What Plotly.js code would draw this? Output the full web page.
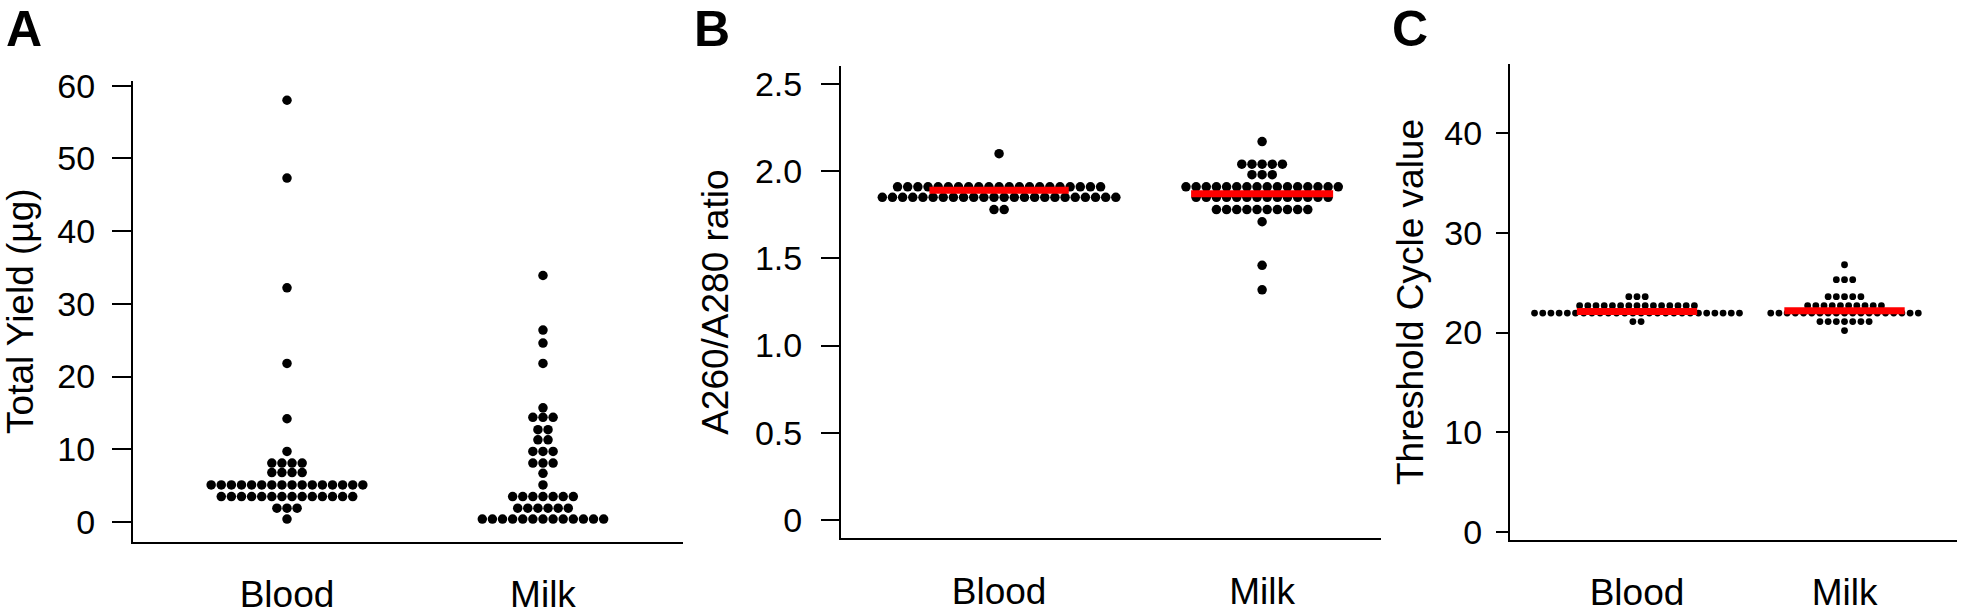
<!DOCTYPE html>
<html>
<head>
<meta charset="utf-8">
<script src="https://cdn.plot.ly/plotly-3.0.1.min.js"></script>
<style>
html,body{margin:0;padding:0;background:#fff;}
#chart{width:1961px;height:614px;}
</style>
</head>
<body>
<div id="chart"></div>
<script>
// ---------- data ----------
const categories = ['Blood', 'Milk'];
const panelLetters = ['A', 'B', 'C'];
const yTitles = ['Total Yield (µg)', 'A260/A280 ratio', 'Threshold Cycle value'];

// Panel A: total yield (µg)
const yieldBlood = [58.0, 47.3, 32.2, 21.8, 14.2, 9.7,
  8.1, 8.1, 8.1, 8.1,
  6.8, 6.8, 6.8, 6.8,
  5.1, 5.1, 5.1, 5.1, 5.1, 5.1, 5.1, 5.1, 5.1, 5.1, 5.1, 5.1, 5.1, 5.1, 5.1, 5.1,
  3.5, 3.5, 3.5, 3.5, 3.5, 3.5, 3.5, 3.5, 3.5, 3.5, 3.5, 3.5, 3.5, 3.5,
  1.9, 1.9, 1.9,
  0.4];
const yieldMilk = [33.9, 26.4, 24.6, 21.8, 15.7,
  14.4, 14.4, 14.4,
  12.7, 12.7,
  11.3, 11.3,
  9.7, 9.7, 9.7,
  8.1, 8.1, 8.1,
  6.7, 5.1,
  3.5, 3.5, 3.5, 3.5, 3.5, 3.5, 3.5,
  1.9, 1.9, 1.9, 1.9, 1.9, 1.9,
  0.4, 0.4, 0.4, 0.4, 0.4, 0.4, 0.4, 0.4, 0.4, 0.4, 0.4, 0.4, 0.4];

// Panel B: A260/A280 ratio
const ratioBlood = [2.10,
  1.91, 1.91, 1.91, 1.91, 1.91, 1.91, 1.91, 1.91, 1.91, 1.91, 1.91, 1.91, 1.91, 1.91, 1.91, 1.91, 1.91, 1.91, 1.91, 1.91, 1.91,
  1.85, 1.85, 1.85, 1.85, 1.85, 1.85, 1.85, 1.85, 1.85, 1.85, 1.85, 1.85, 1.85, 1.85, 1.85, 1.85, 1.85, 1.85, 1.85, 1.85, 1.85, 1.85, 1.85, 1.85,
  1.78, 1.78];
const ratioMilk = [2.17,
  2.04, 2.04, 2.04, 2.04, 2.04,
  1.98, 1.98, 1.98,
  1.91, 1.91, 1.91, 1.91, 1.91, 1.91, 1.91, 1.91, 1.91, 1.91, 1.91, 1.91, 1.91, 1.91, 1.91, 1.91,
  1.85, 1.85, 1.85, 1.85, 1.85, 1.85, 1.85, 1.85, 1.85, 1.85, 1.85, 1.85, 1.85, 1.85,
  1.78, 1.78, 1.78, 1.78, 1.78, 1.78, 1.78, 1.78, 1.78, 1.78,
  1.71, 1.46, 1.32];
const ratioCentre = [1.89, 1.87];

// Panel C: threshold cycle value
const ctBlood = [23.6, 23.6, 23.6,
  22.7, 22.7, 22.7, 22.7, 22.7, 22.7, 22.7, 22.7, 22.7, 22.7, 22.7, 22.7, 22.7, 22.7, 22.7,
  21.95, 21.95, 21.95, 21.95, 21.95, 21.95, 21.95, 21.95, 21.95, 21.95, 21.95, 21.95, 21.95,
  21.95, 21.95, 21.95, 21.95, 21.95, 21.95, 21.95, 21.95, 21.95, 21.95, 21.95, 21.95, 21.95,
  21.1, 21.1];
const ctMilk = [26.8,
  25.3, 25.3, 25.3,
  23.6, 23.6, 23.6, 23.6, 23.6,
  22.7, 22.7, 22.7, 22.7, 22.7, 22.7, 22.7, 22.7, 22.7, 22.7,
  21.95, 21.95, 21.95, 21.95, 21.95, 21.95, 21.95, 21.95, 21.95, 21.95,
  21.95, 21.95, 21.95, 21.95, 21.95, 21.95, 21.95, 21.95, 21.95,
  21.1, 21.1, 21.1, 21.1, 21.1, 21.1, 21.1,
  20.2];
const ctCentre = [22.1, 22.2];

// tick labels
const yTicksA = [0, 10, 20, 30, 40, 50, 60];
const yTicksB = [0, 0.5, 1.0, 1.5, 2.0, 2.5];
const yTickTextB = ['0', '0.5', '1.0', '1.5', '2.0', '2.5'];
const yTicksC = [0, 10, 20, 30, 40];

// ---------- layout helpers ----------
const W = 1961, H = 614;
const FONT = 'Liberation Sans, Arial, Helvetica, sans-serif';

// dot-plot stacking: equal values spread side by side around the category
function swarm(values, catIndex, dx) {
  const counts = {};
  values.forEach(v => { counts[v] = (counts[v] || 0) + 1; });
  const seen = {};
  return values.map(v => {
    const n = counts[v];
    const i = seen[v] || 0;
    seen[v] = i + 1;
    return catIndex + (i - (n - 1) / 2) * dx;
  });
}

function dots(values, catIndex, dx, size, ax) {
  return {
    type: 'scatter', mode: 'markers',
    x: swarm(values, catIndex, dx), y: values,
    xaxis: 'x' + ax, yaxis: 'y' + ax,
    marker: {color: '#000', size: size, line: {width: 0}},
    hoverinfo: 'y', cliponaxis: false
  };
}

function centreLine(value, catIndex, half, ax) {
  return {
    type: 'scatter', mode: 'lines',
    x: [catIndex - half, catIndex + half], y: [value, value],
    xaxis: 'x' + ax, yaxis: 'y' + ax,
    line: {color: '#ff0000', width: 7},
    hoverinfo: 'skip'
  };
}

const traces = [
  dots(yieldBlood, 0, 0.0395, 9.5, ''),
  dots(yieldMilk, 1, 0.0395, 9.5, ''),
  dots(ratioBlood, 0, 0.0386, 9.5, '2'),
  dots(ratioMilk, 1, 0.0386, 9.5, '2'),
  centreLine(ratioCentre[0], 0, 0.265, '2'),
  centreLine(ratioCentre[1], 1, 0.27, '2'),
  dots(ctBlood, 0, 0.0395, 6.8, '3'),
  dots(ctMilk, 1, 0.0395, 6.8, '3'),
  centreLine(ctCentre[0], 0, 0.29, '3'),
  centreLine(ctCentre[1], 1, 0.29, '3')
];

function px2x(p) { return p / W; }
function px2y(p) { return 1 - p / H; }

function xAxis(l, r, range, anchor) {
  return {
    domain: [px2x(l), px2x(r)], range: range, anchor: anchor,
    tickmode: 'array', tickvals: [0, 1], ticktext: categories,
    ticks: '', showline: true, linecolor: '#000', linewidth: 2,
    showgrid: false, zeroline: false,
    tickfont: {size: 37, color: '#000', family: FONT},
    ticklabelstandoff: 19, fixedrange: true
  };
}

function yAxis(top, bottom, range, anchor, tickvals, ticktext, ticklen, title, standoff, lblStand) {
  const a = {
    domain: [px2y(bottom), px2y(top)], range: range, anchor: anchor,
    tickmode: 'array', tickvals: tickvals,
    ticks: 'outside', ticklen: ticklen, tickwidth: 2, tickcolor: '#000',
    showline: true, linecolor: '#000', linewidth: 2,
    showgrid: false, zeroline: false,
    tickfont: {size: 34, color: '#000', family: FONT},
    ticklabelstandoff: lblStand,
    title: {text: title, font: {size: 37, color: '#000', family: FONT}, standoff: standoff},
    fixedrange: true
  };
  if (ticktext) a.ticktext = ticktext;
  return a;
}

const layout = {
  width: W, height: H,
  margin: {l: 0, r: 0, t: 0, b: 0, autoexpand: false},
  paper_bgcolor: '#fff', plot_bgcolor: '#fff',
  showlegend: false,
  font: {family: FONT, color: '#000'},
  xaxis:  xAxis(133, 683, [-0.6016, 1.547], 'y'),
  yaxis:  yAxis(80.7, 541.7, [-2.71, 60.69], 'x', yTicksA, null, 19, yTitles[0], 27, 10),
  xaxis2: xAxis(841, 1381, [-0.601, 1.452], 'y2'),
  yaxis2: yAxis(66, 538.3, [-0.105, 2.603], 'x2', yTicksB, yTickTextB, 18, yTitles[1], 15, 12),
  xaxis3: xAxis(1510, 1957, [-0.612, 1.542], 'y3'),
  yaxis3: yAxis(64.3, 539.7, [-0.77, 46.9], 'x3', yTicksC, null, 12, yTitles[2], 9, 7),
  annotations: [
    {text: panelLetters[0], x: px2x(24), y: px2y(28.5)},
    {text: panelLetters[1], x: px2x(711.5), y: px2y(28.5)},
    {text: panelLetters[2], x: px2x(1409.5), y: px2y(28.5)}
  ].map(a => Object.assign(a, {
    xref: 'paper', yref: 'paper', xanchor: 'center', yanchor: 'middle',
    showarrow: false, font: {size: 50, family: FONT, color: '#000', weight: 'bold'}
  }))
};

Plotly.newPlot('chart', traces, layout, {staticPlot: true, displayModeBar: false});
</script>
</body>
</html>
